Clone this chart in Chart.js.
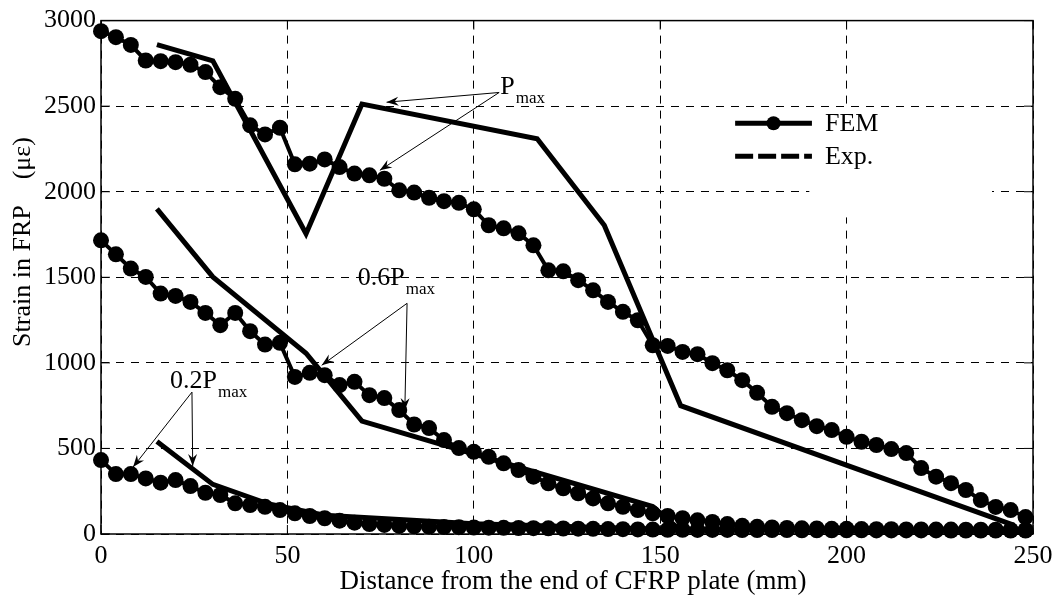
<!DOCTYPE html>
<html>
<head>
<meta charset="utf-8">
<script src="https://cdn.jsdelivr.net/npm/chart.js@4.4.1/dist/chart.umd.min.js"></script>
<style>
  body { margin: 0; background: #fff; }
  canvas { display: block; }
</style>
</head>
<body>
<canvas id="graphique" width="1060" height="604"></canvas>
<script>
// distance from plate end (mm), FEM nodes
const xFem = [0, 4, 8, 12, 16, 20, 24, 28, 32, 36, 40, 44, 48, 52, 56, 60, 64, 68, 72, 76,
    80, 84, 88, 92, 96, 100, 104, 108, 112, 116, 120, 124, 128, 132, 136, 140, 144, 148, 152, 156,
    160, 164, 168, 172, 176, 180, 184, 188, 192, 196, 200, 204, 208, 212, 216, 220, 224, 228, 232, 236,
    240, 244, 248];

// FEM strains (microstrain)
const femPmax = [2938, 2903, 2858, 2767, 2763, 2757, 2742, 2699, 2611, 2543, 2388, 2335, 2374, 2160, 2164, 2189, 2144, 2106, 2096, 2076,
    2008, 1995, 1965, 1945, 1935, 1897, 1804, 1786, 1757, 1687, 1541, 1535, 1483, 1424, 1356, 1298, 1249, 1103, 1099, 1064,
    1051, 998, 957, 899, 825, 743, 706, 665, 630, 607, 568, 539, 520, 496, 473, 385, 335, 297, 257, 198,
    158, 140, 99];
const fem06 = [1716, 1634, 1551, 1502, 1405, 1391, 1356, 1292, 1220, 1292, 1185, 1107, 1117, 918, 942, 928, 870, 889, 811, 794,
    724, 640, 619, 549, 502, 480, 451, 413, 374, 335, 296, 267, 238, 208, 179, 159, 140, 121, 105, 92,
    80, 70, 58, 48, 42, 38, 35, 33, 32, 30, 30, 29, 28, 28, 27, 27, 26, 26, 25, 25,
    25, 24, 24];
const fem02 = [432, 350, 350, 325, 300, 315, 280, 241, 228, 179, 169, 159, 140, 121, 105, 92, 78, 66, 58, 53,
    47, 45, 43, 41, 40, 38, 37, 36, 35, 34, 33, 32, 31, 30, 29, 28, 27, 26, 25, 25,
    24, 24, 24, 23, 23, 23, 23, 22, 22, 22, 22, 22, 21, 21, 21, 21, 21, 20, 20, 20,
    20, 20, 20];

// experimental strains (gauge positions)
const expPmaxX = [15, 30, 55, 70, 117, 135, 155.5, 245];
const expPmaxY = [2860, 2765, 1755, 2512, 2310, 1804, 750, 50];
const exp06X = [15, 30, 55, 70, 148, 155];
const exp06Y = [1900, 1502, 1056, 660, 160, 30];
const exp02X = [15, 30, 45, 60, 100, 155];
const exp02Y = [540, 290, 175, 110, 60, 25];

const xTicks = [0, 50, 100, 150, 200, 250];
const yTicks = [0, 500, 1000, 1500, 2000, 2500, 3000];

const serif = '"Liberation Serif", "Times New Roman", serif';
Chart.defaults.color = '#000';

function pts(xs, ys) {
    return xs.map((x, i) => ({x: x, y: ys[i]}));
}

function femSet(ys) {
    return {data: pts(xFem, ys), borderColor: '#000', backgroundColor: '#000', borderWidth: 4,
        pointRadius: 8, pointBackgroundColor: '#000', pointBorderWidth: 0, tension: 0, clip: false};
}
function expSet(xs, ys) {
    return {data: pts(xs, ys), borderColor: '#000', borderWidth: 5, pointRadius: 0, tension: 0, clip: false};
}

function arrow(ctx, x0, y0, x1, y1) {
    ctx.beginPath();
    ctx.moveTo(x0, y0);
    ctx.lineTo(x1, y1);
    ctx.stroke();
    let ang = Math.atan2(y1 - y0, x1 - x0);
    ctx.save();
    ctx.translate(x1, y1);
    ctx.rotate(ang);
    ctx.beginPath();
    ctx.moveTo(0, 0);
    ctx.lineTo(-12, -4.5);
    ctx.lineTo(-8, 0);
    ctx.lineTo(-12, 4.5);
    ctx.closePath();
    ctx.fill();
    ctx.restore();
}

function label(ctx, main, sub, px, py) {
    ctx.font = '26px ' + serif;
    ctx.textAlign = 'left';
    ctx.textBaseline = 'alphabetic';
    ctx.fillText(main, px, py);
    let w = ctx.measureText(main).width;
    ctx.font = '17px ' + serif;
    ctx.fillText(sub, px + w + 1, py + 9);
}

// annotation anchors, in data units
const notes = [
    {main: 'P', sub: 'max', at: [107.1, 2574], from: [106.8, 2580], to: [[76.6, 2523], [74.8, 2125]]},
    {main: '0.6P', sub: 'max', at: [68.9, 1453], from: [82.1, 1348], to: [[59.2, 986], [81.5, 724]]},
    {main: '0.2P', sub: 'max', at: [18.5, 852], from: [24.4, 829], to: [[8.6, 391], [24.6, 397]]}
];

const decor = {
    id: 'decor',
    beforeDatasetsDraw(chart) {
        const ctx = chart.ctx, a = chart.chartArea;
        const xs = chart.scales.x, ys = chart.scales.y;
        ctx.save();
        // blank patch behind the legend
        ctx.fillStyle = '#fff';
        let lx0 = xs.getPixelForValue(190), lx1 = xs.getPixelForValue(239);
        let ly0 = ys.getPixelForValue(2490), ly1 = ys.getPixelForValue(1850);
        ctx.fillRect(lx0, ly0, lx1 - lx0, ly1 - ly0);
        // frame + inner ticks
        ctx.strokeStyle = '#000';
        ctx.lineWidth = 1.5;
        ctx.strokeRect(a.left, a.top, a.right - a.left, a.bottom - a.top);
        ctx.lineWidth = 1;
        ctx.beginPath();
        xTicks.forEach(v => {
            let p = xs.getPixelForValue(v);
            ctx.moveTo(p, a.bottom); ctx.lineTo(p, a.bottom - 9);
            ctx.moveTo(p, a.top); ctx.lineTo(p, a.top + 9);
        });
        yTicks.forEach(v => {
            let p = ys.getPixelForValue(v);
            ctx.moveTo(a.left, p); ctx.lineTo(a.left + 9, p);
            ctx.moveTo(a.right, p); ctx.lineTo(a.right - 9, p);
        });
        ctx.stroke();
        ctx.restore();
    },
    afterDatasetsDraw(chart) {
        const ctx = chart.ctx, a = chart.chartArea;
        const xs = chart.scales.x, ys = chart.scales.y;
        ctx.save();
        ctx.fillStyle = '#000';
        ctx.strokeStyle = '#000';
        ctx.lineWidth = 1;
        notes.forEach(n => {
            let sx = xs.getPixelForValue(n.from[0]), sy = ys.getPixelForValue(n.from[1]);
            n.to.forEach(t => arrow(ctx, sx, sy, xs.getPixelForValue(t[0]), ys.getPixelForValue(t[1])));
            label(ctx, n.main, n.sub, xs.getPixelForValue(n.at[0]), ys.getPixelForValue(n.at[1]));
        });

        // legend
        let x0 = xs.getPixelForValue(170.1), x1 = xs.getPixelForValue(190.7);
        let yF = ys.getPixelForValue(2400), yE = ys.getPixelForValue(2207);
        ctx.lineWidth = 5;
        ctx.beginPath();
        ctx.moveTo(x0, yF); ctx.lineTo(x1, yF);
        ctx.stroke();
        ctx.beginPath();
        ctx.arc((x0 + x1) / 2, yF, 7, 0, Math.PI * 2);
        ctx.fill();
        ctx.setLineDash([18, 5]);
        ctx.beginPath();
        ctx.moveTo(x0, yE); ctx.lineTo(x1, yE);
        ctx.stroke();
        ctx.setLineDash([]);
        ctx.font = '26px ' + serif;
        ctx.textAlign = 'left';
        ctx.textBaseline = 'middle';
        let tx = xs.getPixelForValue(194.2);
        ctx.fillText('FEM', tx, yF + 1);
        ctx.fillText('Exp.', tx, yE + 1);

        // axis titles
        ctx.textAlign = 'center';
        ctx.font = '27px ' + serif;
        ctx.fillText('Distance from the end of CFRP plate (mm)', 573, 582);
        ctx.font = '26px ' + serif;
        ctx.translate(23, 242);
        ctx.rotate(-Math.PI / 2);
        ctx.fillText('Strain in FRP    (με)', 0, 0);
        ctx.restore();
    }
};

const gridOpts = {color: '#000', lineWidth: 1, drawTicks: false};

var ctx = document.getElementById('graphique').getContext('2d');
var myChart = new Chart(ctx, {
    type: 'line',
    data: {
        datasets: [
            femSet(femPmax), femSet(fem06), femSet(fem02),
            expSet(expPmaxX, expPmaxY), expSet(exp06X, exp06Y), expSet(exp02X, exp02Y)
        ]
    },
    options: {
        responsive: false,
        animation: false,
        layout: {padding: {top: 20, right: 27, left: 0, bottom: 0}},
        plugins: {legend: {display: false}, tooltip: {enabled: false}},
        scales: {
            x: {
                type: 'linear', min: 0, max: 250,
                ticks: {stepSize: 50, padding: 7, font: {family: serif, size: 26}, maxRotation: 0,
                    callback: v => String(v)},
                grid: gridOpts,
                border: {display: false, dash: [8, 7]},
                afterFit: s => { s.height = 70; }
            },
            y: {
                min: 0, max: 3000,
                ticks: {stepSize: 500, padding: 5, font: {family: serif, size: 26},
                    callback: v => String(v)},
                grid: gridOpts,
                border: {display: false, dash: [8, 7]},
                afterFit: s => { s.width = 101; }
            }
        }
    },
    plugins: [decor]
});
</script>
</body>
</html>
